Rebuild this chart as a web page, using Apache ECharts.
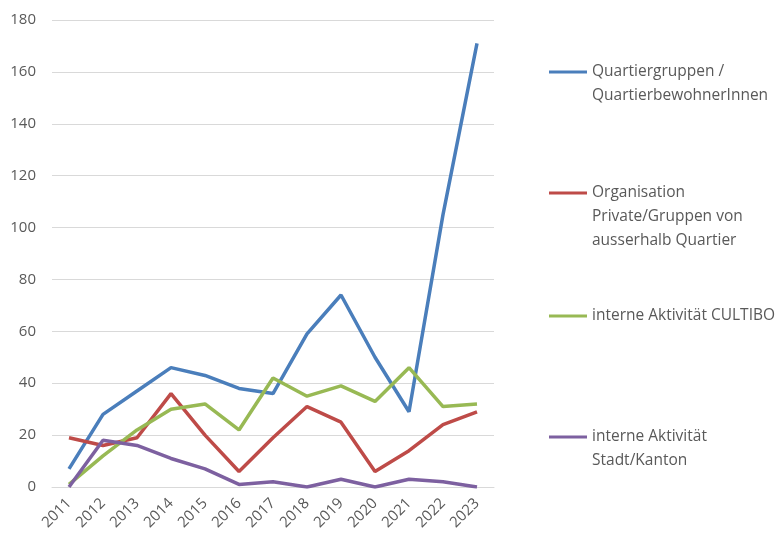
<!DOCTYPE html>
<html>
<head>
<meta charset="utf-8">
<script src="https://cdn.jsdelivr.net/npm/echarts@6/dist/echarts.min.js"></script>
<style>html,body{margin:0;padding:0;background:#fff}#c{width:777px;height:537px}</style>
</head>
<body>
<div id="c"></div>
<script>
const years = ['2011','2012','2013','2014','2015','2016','2017','2018','2019','2020','2021','2022','2023'];
const seriesNames = [
  'Quartiergruppen /\nQuartierbewohnerInnen',
  'Organisation\nPrivate/Gruppen von\nausserhalb Quartier',
  'interne Aktivität CULTIBO',
  'interne Aktivität\nStadt/Kanton'
];
const quartier = [7, 28, 37, 46, 43, 38, 36, 59, 74, 50, 29, 105, 171];
const organisation = [19, 16, 19, 36, 20, 6, 19, 31, 25, 6, 14, 24, 29];
const cultibo = [1, 12, 22, 30, 32, 22, 42, 35, 39, 33, 46, 31, 32];
const stadt = [0, 18, 16, 11, 7, 1, 2, 0, 3, 0, 3, 2, 0];
const colors = ['#4a7ebb', '#be4b48', '#98b954', '#7d60a0'];
const allData = [quartier, organisation, cultibo, stadt];

const lh = 24;
const legendTops = [72, 193, 316, 437];
const legends = seriesNames.map((n, i) => {
  const lines = n.split('\n').length;
  const blockH = (2 * lines - 1) * lh;
  return {
    orient: 'vertical', left: 549, top: legendTops[i] - blockH / 2, padding: 0,
    data: [n], icon: 'rect', itemWidth: 38, itemHeight: 3,
    selectedMode: false,
    formatter: function (name) {
      const k = name.split('\n').length - 1;
      return '\n'.repeat(k) + name;
    },
    textStyle: { color: '#595959', fontSize: 15.5, fontFamily: 'Open Sans', lineHeight: lh }
  };
});

const chart = echarts.init(document.getElementById('c'));
chart.setOption({
  backgroundColor: '#fff',
  animation: false,
  legend: legends,
  grid: { left: 52, right: 283, top: 20, bottom: 50 },
  xAxis: {
    type: 'category', data: years, boundaryGap: true,
    axisLine: { lineStyle: { color: '#d9d9d9' } },
    axisTick: { show: false },
    axisLabel: { rotate: 45, color: '#595959', fontSize: 15, fontFamily: 'Open Sans', margin: 14, interval: 0 }
  },
  yAxis: {
    type: 'value', min: 0, max: 180, interval: 20,
    axisLine: { show: false }, axisTick: { show: false },
    splitLine: { lineStyle: { color: '#d9d9d9' } },
    axisLabel: { color: '#595959', fontSize: 15, fontFamily: 'Open Sans', margin: 16 }
  },
  series: allData.map((d, i) => ({
    name: seriesNames[i], type: 'line', data: d, showSymbol: false, symbol: 'none',
    lineStyle: { width: 3.5, color: colors[i] }, itemStyle: { color: colors[i] }
  }))
});
</script>
</body>
</html>
